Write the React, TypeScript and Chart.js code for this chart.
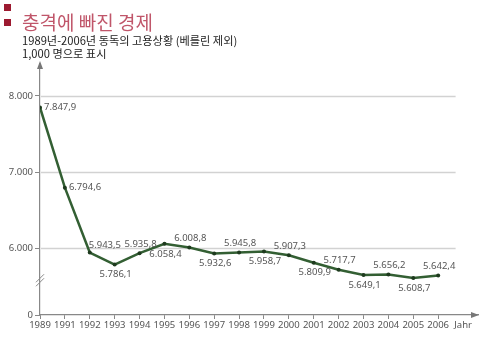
import React, { useEffect, useRef } from "react";
import { Chart, registerables } from "chart.js";

Chart.register(...registerables);

const years = ["1989", "1991", "1992", "1993", "1994", "1995", "1996", "1997", "1998", "1999", "2000", "2001", "2002", "2003", "2004", "2005", "2006"];
const employment = [7847.9, 6794.6, 5943.5, 5786.1, 5935.8, 6058.4, 6008.8, 5932.6, 5945.8, 5958.7, 5907.3, 5809.9, 5717.7, 5649.1, 5656.2, 5608.7, 5642.4];
const labelPlacement = ["r", "r", "ar", "b", "a", "b", "a", "b", "a", "b", "a", "b", "a", "b", "a", "b", "a"];
const yGridValues = [6000, 7000, 8000];
const axisUnit = "Jahr";
const title = "충격에 빠진 경제";
const subtitle1 = "1989년-2006년 동독의 고용상황 (베를린 제외)";
const subtitle2 = "1,000 명으로 표시";

const Y_MIN = 5124;
const Y_MAX = 8418;
const X_MAX = 17.6;

const fmt = (v: number, dec: number) => {
  const s = v.toFixed(dec);
  const [ip, dp] = s.split(".");
  const withDots = ip.replace(/\B(?=(\d{3})+(?!\d))/g, ".");
  return dp ? withDots + "," + dp : withDots;
};

const FONT = "'Noto Sans', 'DejaVu Sans', sans-serif";

const decorPlugin = {
  id: "decor",
  beforeDatasetsDraw(chart: any) {
    const { ctx, chartArea, scales } = chart;
    const x = scales.x;
    const y = scales.y;
    ctx.save();
    ctx.strokeStyle = "#d2d2d2";
    ctx.lineWidth = 1.5;
    const xEnd = x.getPixelForValue(16.7);
    yGridValues.forEach((v) => {
      const py = Math.round(y.getPixelForValue(v)) + 0.5;
      ctx.beginPath();
      ctx.moveTo(chartArea.left + 1, py);
      ctx.lineTo(xEnd, py);
      ctx.stroke();
    });
    ctx.restore();
  },
  afterDatasetsDraw(chart: any) {
    const { ctx, chartArea, scales } = chart;
    const x = scales.x;
    const y = scales.y;
    ctx.save();
    ctx.fillStyle = "#777";
    const lx = chartArea.left;
    ctx.beginPath();
    ctx.moveTo(lx, chartArea.top - 3);
    ctx.lineTo(lx - 3, chartArea.top + 5);
    ctx.lineTo(lx + 3, chartArea.top + 5);
    ctx.closePath();
    ctx.fill();
    const by = chartArea.bottom;
    ctx.beginPath();
    ctx.moveTo(chartArea.right + 1, by);
    ctx.lineTo(chartArea.right - 7, by - 3);
    ctx.lineTo(chartArea.right - 7, by + 3);
    ctx.closePath();
    ctx.fill();
    ctx.strokeStyle = "#888";
    ctx.lineWidth = 1;
    const bm = y.getPixelForValue(5580);
    [-2, 2].forEach((d) => {
      ctx.beginPath();
      ctx.moveTo(lx - 4, bm + d + 4);
      ctx.lineTo(lx + 4, bm + d - 4);
      ctx.stroke();
    });
    ctx.fillStyle = "#555";
    ctx.font = "9.5px " + FONT;
    employment.forEach((v, i) => {
      const px = x.getPixelForValue(i);
      const py = y.getPixelForValue(v);
      const txt = fmt(v, 1);
      const p = labelPlacement[i];
      ctx.textBaseline = "middle";
      if (p === "r") {
        ctx.textAlign = "left";
        ctx.fillText(txt, px + 4, py);
      } else if (p === "ar") {
        ctx.textAlign = "left";
        ctx.fillText(txt, px - 1, py - 7);
      } else if (p === "a") {
        ctx.textAlign = "center";
        ctx.fillText(txt, px + 1, py - 9);
      } else {
        ctx.textAlign = "center";
        ctx.fillText(txt, px + 1, py + 10);
      }
    });
    ctx.restore();
  },
};

function ChartCanvas() {
  const ref = useRef<HTMLCanvasElement | null>(null);
  useEffect(() => {
    if (!ref.current) return;
    const chart = new Chart(ref.current, {
      type: "line",
      data: {
        datasets: [
          {
            data: employment.map((v, i) => ({ x: i, y: v })),
            borderColor: "#335f33",
            borderWidth: 2.5,
            pointRadius: 2,
            pointBackgroundColor: "#1e3a1e",
            pointBorderColor: "#1e3a1e",
            pointBorderWidth: 0,
            tension: 0,
          },
        ],
      },
      options: {
        animation: false,
        responsive: false,
        devicePixelRatio: 1,
        layout: { padding: { top: 64, right: 4, left: 0, bottom: 0 } },
        plugins: { legend: { display: false }, tooltip: { enabled: false } },
        scales: {
          x: {
            type: "linear",
            min: 0,
            max: X_MAX,
            afterBuildTicks: (scale: any) => {
              scale.ticks = years.map((_, i) => ({ value: i })).concat([{ value: years.length }]);
            },
            afterFit: (scale: any) => {
              scale.height = 26;
            },
            ticks: {
              autoSkip: false,
              maxRotation: 0,
              padding: 1,
              color: "#555",
              font: { family: FONT, size: 9.5 },
              callback: (v: any) => (v < years.length ? years[v] : axisUnit),
            },
            grid: {
              drawOnChartArea: false,
              drawTicks: true,
              tickLength: 4,
              color: (c: any) => (c.tick && c.tick.value < years.length ? "#888" : "rgba(0,0,0,0)"),
            },
            border: { display: true, color: "#888", width: 1.2 },
          },
          y: {
            type: "linear",
            min: Y_MIN,
            max: Y_MAX,
            afterBuildTicks: (scale: any) => {
              scale.ticks = [{ value: Y_MIN }].concat(yGridValues.map((v) => ({ value: v })));
            },
            afterFit: (scale: any) => {
              scale.width = 40;
            },
            ticks: {
              padding: 2,
              color: "#555",
              font: { family: FONT, size: 9.5 },
              callback: (v: any) => (v === Y_MIN ? "0" : fmt(v, 0)),
            },
            grid: {
              drawOnChartArea: false,
              drawTicks: true,
              tickLength: 5,
              color: "#888",
            },
            border: { display: true, color: "#888", width: 1.2 },
          },
        },
      },
      plugins: [decorPlugin],
    } as any);
    return () => chart.destroy();
  }, []);
  return <canvas ref={ref} width={482} height={341} style={{ position: "absolute", left: 0, top: 0 }} />;
}

export default function App() {
  const sq = (top: number) => (
    <div style={{ position: "absolute", left: 4, top, width: 7, height: 7, background: "#9c1a30" }} />
  );
  return (
    <div style={{ position: "fixed", left: 0, top: 0, width: 482, height: 341, background: "#fff", overflow: "hidden" }}>
      <ChartCanvas />
      {sq(4)}
      {sq(19)}
      <div
        style={{
          position: "absolute",
          left: 22,
          top: 11,
          fontFamily: "'Noto Sans CJK KR', sans-serif",
          fontSize: 19,
          lineHeight: "22px",
          color: "#c0566a",
          whiteSpace: "nowrap",
        }}
      >
        {title}
      </div>
      <div
        style={{
          position: "absolute",
          left: 22,
          top: 34,
          fontFamily: "'Noto Sans CJK KR', sans-serif",
          fontSize: 11.2,
          lineHeight: "13px",
          color: "#222",
          whiteSpace: "nowrap",
        }}
      >
        <div>{subtitle1}</div>
        <div>{subtitle2}</div>
      </div>
    </div>
  );
}
